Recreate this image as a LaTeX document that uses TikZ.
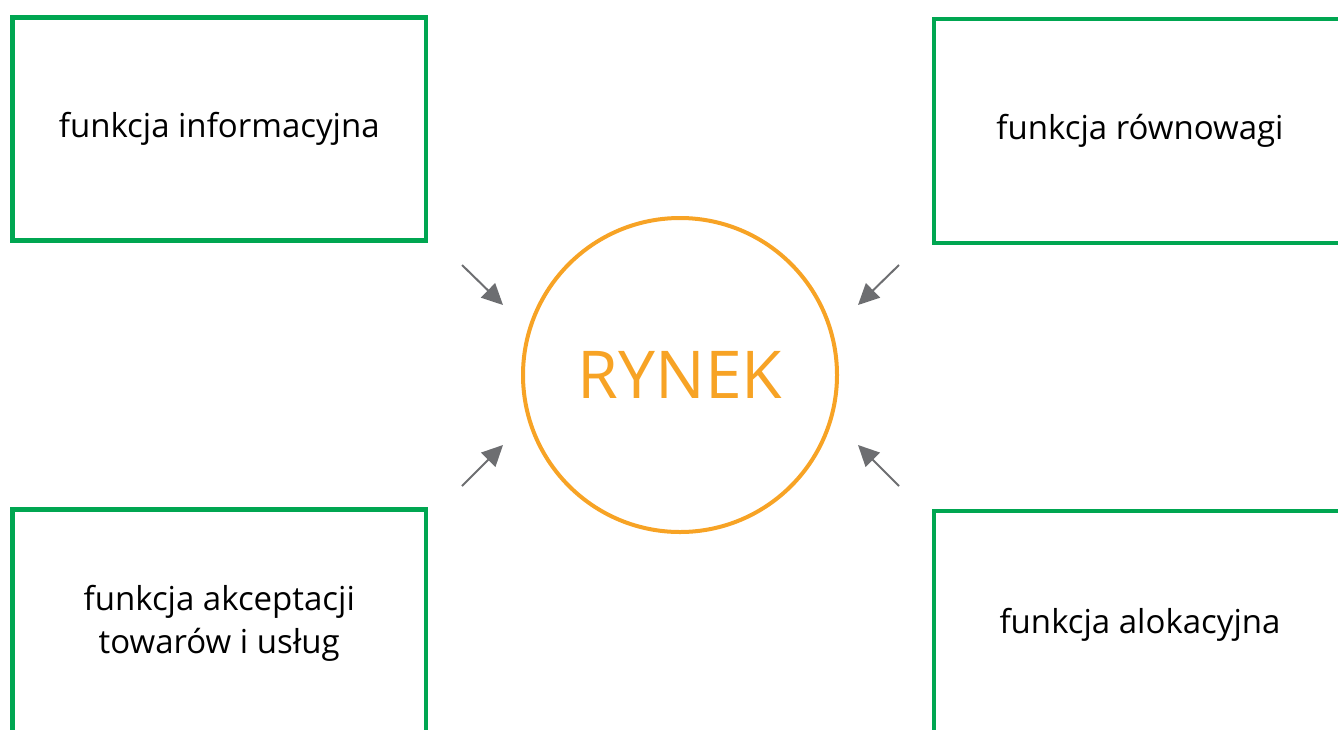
\documentclass[tikz,border=0pt]{standalone}
\usepackage{fontspec}
\setmainfont{Open Sans}
\usetikzlibrary{arrows.meta}
\definecolor{boxgreen}{HTML}{00A651}
\definecolor{rynekorange}{HTML}{F7A325}
\definecolor{arrowgray}{HTML}{6D6E71}
\tikzset{
  funcbox/.style={draw=boxgreen, line width=4.5pt, rectangle, inner sep=0pt, align=center,
    font=\fontsize{33}{43}\selectfont},
  marketcircle/.style={draw=rynekorange, line width=4pt, circle, minimum size=314pt, inner sep=0pt,
    text=rynekorange, font=\fontsize{66}{70}\selectfont},
  inarrow/.style={draw=arrowgray, line width=2pt, -{Triangle[length=21pt,width=20pt]}, fill=arrowgray}
}
\begin{document}
\begin{tikzpicture}[x=1pt,y=-1pt]
\useasboundingbox (0,0) rectangle (1338,729);
\clip (0,0) rectangle (1338,729);
\node[funcbox, minimum width=413.5pt, minimum height=223pt] (info) at (219.25,129) {funkcja informacyjna};
\node[funcbox, minimum width=412pt, minimum height=224pt] (rown) at (1140,131) {funkcja równowagi};
\node[funcbox, minimum width=413.5pt, minimum height=227pt] (akc) at (219.25,623) {funkcja akceptacji\\towarów i usług};
\node[funcbox, minimum width=412pt, minimum height=228pt] (alok) at (1140,625) {funkcja alokacyjna};
\node[marketcircle] (rynek) at (680,375) {RYNEK};
\coordinate (a1s) at (462,265);
\coordinate (a1e) at (503,305);
\coordinate (a2s) at (899,265);
\coordinate (a2e) at (858,305);
\coordinate (a3s) at (462,486);
\coordinate (a3e) at (503,445);
\coordinate (a4s) at (899,486);
\coordinate (a4e) at (858,445);
\draw[inarrow] (a1s) -- (a1e);
\draw[inarrow] (a2s) -- (a2e);
\draw[inarrow] (a3s) -- (a3e);
\draw[inarrow] (a4s) -- (a4e);
\end{tikzpicture}
\end{document}
